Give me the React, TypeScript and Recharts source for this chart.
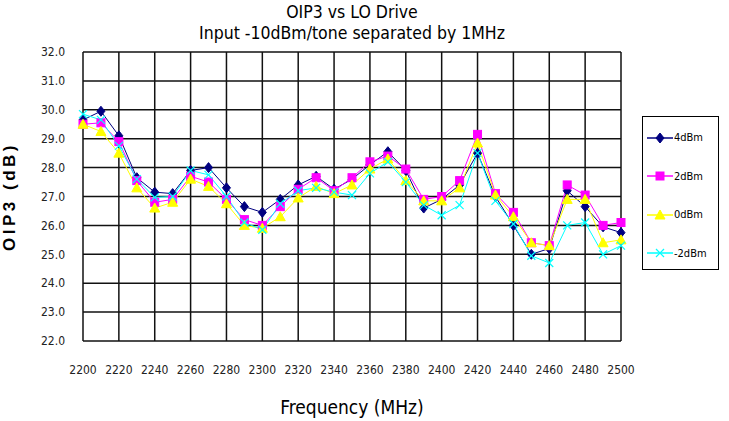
import React from "react";
import { LineChart, Line, XAxis, YAxis, CartesianGrid, Label } from "recharts";

const freqs = [2200, 2210, 2220, 2230, 2240, 2250, 2260, 2270, 2280, 2290, 2300, 2310, 2320, 2330, 2340, 2350, 2360, 2370, 2380, 2390, 2400, 2410, 2420, 2430, 2440, 2450, 2460, 2470, 2480, 2490, 2500];
const s4dBm = [29.65, 29.95, 29.1, 27.65, 27.15, 27.1, 27.9, 28.0, 27.3, 26.65, 26.45, 26.9, 27.4, 27.7, 27.25, 27.6, 28.1, 28.55, 27.9, 26.6, 26.9, 27.4, 28.5, 27.0, 26.0, 25.0, 25.2, 27.2, 26.65, 25.95, 25.75];
const s2dBm = [29.5, 29.55, 28.9, 27.55, 26.8, 26.9, 27.7, 27.5, 26.9, 26.2, 26.0, 26.65, 27.25, 27.65, 27.2, 27.65, 28.2, 28.4, 27.95, 26.9, 27.0, 27.55, 29.15, 27.1, 26.45, 25.4, 25.3, 27.4, 27.05, 26.0, 26.1];
const s0dBm = [29.5, 29.25, 28.5, 27.3, 26.6, 26.8, 27.6, 27.35, 26.75, 26.0, 25.9, 26.3, 26.95, 27.35, 27.1, 27.4, 27.95, 28.3, 27.55, 26.85, 26.85, 27.3, 28.85, 27.05, 26.3, 25.4, 25.3, 26.9, 26.9, 25.4, 25.5];
const sm2dBm = [29.85, 29.65, 28.75, 27.6, 26.97, 27.0, 27.9, 27.75, 27.0, 26.1, 25.85, 26.75, 27.2, 27.3, 27.15, 27.05, 27.8, 28.2, 27.5, 26.7, 26.35, 26.7, 28.5, 26.85, 26.05, 24.95, 24.7, 26.0, 26.1, 25.0, 25.3];

const xTicks = [2200, 2220, 2240, 2260, 2280, 2300, 2320, 2340, 2360, 2380, 2400, 2420, 2440, 2460, 2480, 2500];
const yTicks = [22, 23, 24, 25, 26, 27, 28, 29, 30, 31, 32];

const seriesDefs = [
  { key: "a", name: "4dBm", color: "#000080", shape: "diamond", values: s4dBm },
  { key: "b", name: "2dBm", color: "#FF00FF", shape: "square", values: s2dBm },
  { key: "c", name: "0dBm", color: "#FFFF00", shape: "triangle", values: s0dBm },
  { key: "d", name: "-2dBm", color: "#00FFFF", shape: "x", values: sm2dBm },
];

const data = freqs.map((f, i) => {
  const row: any = { f };
  seriesDefs.forEach((s) => (row[s.key] = s.values[i]));
  return row;
});

const FONT = "'DejaVu Sans Condensed', 'DejaVu Sans', sans-serif";

function Marker({ cx, cy, shape, color }: any) {
  if (cx == null || cy == null) return null;
  if (shape === "diamond") {
    return <polygon points={`${cx},${cy - 5} ${cx + 4},${cy} ${cx},${cy + 5} ${cx - 4},${cy}`} fill={color} stroke={color} />;
  }
  if (shape === "square") {
    return <rect x={cx - 4} y={cy - 4} width={8} height={8} fill={color} stroke={color} />;
  }
  if (shape === "triangle") {
    return <polygon points={`${cx},${cy - 5} ${cx + 5},${cy + 4} ${cx - 5},${cy + 4}`} fill={color} stroke={color} />;
  }
  return (
    <g stroke={color} strokeWidth={1.2}>
      <line x1={cx - 4} y1={cy - 4} x2={cx + 4} y2={cy + 4} />
      <line x1={cx - 4} y1={cy + 4} x2={cx + 4} y2={cy - 4} />
    </g>
  );
}

function LegendBox() {
  return (
    <div style={{ position: "absolute", left: 642, top: 116, border: "1px solid #000", width: 77, height: 154, boxSizing: "border-box", background: "#fff", fontFamily: FONT, fontSize: 11 }}>
      {seriesDefs.map((s, i) => (
        <div key={s.key} style={{ position: "absolute", left: 4, top: 14 + i * 38.5, display: "flex", alignItems: "center" }}>
          <svg width={26} height={12}>
            <line x1={0} y1={6} x2={26} y2={6} stroke={s.color} strokeWidth={1.5} />
            <Marker cx={13} cy={6} shape={s.shape} color={s.color} />
          </svg>
          <span style={{ marginLeft: 1, color: "#000" }}>{s.name}</span>
        </div>
      ))}
    </div>
  );
}

export default function App() {
  return (
    <div style={{ position: "absolute", left: 0, top: 0, width: 729, height: 421, background: "#fff" }}>
      <div style={{ position: "absolute", left: 0, top: 2, width: 704, textAlign: "center", fontFamily: FONT, fontSize: 17.5, lineHeight: "21px", color: "#000" }}>
        <div>OIP3 vs LO Drive</div>
        <div>Input -10dBm/tone separated by 1MHz</div>
      </div>
      <LineChart width={729} height={421} data={data} margin={{ top: 52, right: 108, bottom: 0, left: 23 }}>
        <CartesianGrid stroke="#111" strokeWidth={1.5} horizontal vertical />
        <XAxis
          dataKey="f"
          type="number"
          domain={[2200, 2500]}
          ticks={xTicks}
          interval={0}
          axisLine={false}
          tickLine={false}
          tick={{ fontFamily: FONT, fontSize: 12, fill: "#222" }}
          tickMargin={18}
          height={80}
        >
          <Label value="Frequency (MHz)" position="insideBottom" offset={7} style={{ fontFamily: FONT, fontSize: 19, fill: "#000" }} />
        </XAxis>
        <YAxis
          type="number"
          domain={[22, 32]}
          ticks={yTicks}
          interval={0}
          axisLine={false}
          tickLine={false}
          width={60}
          tickFormatter={(v: number) => v.toFixed(1)}
          tick={{ fontFamily: FONT, fontSize: 12, fill: "#222" }}
          tickMargin={12}
        >
          <Label value="OIP3 (dB)" angle={-90} position="insideLeft" offset={-14} style={{ fontFamily: "'Liberation Sans', Arial, sans-serif", fontWeight: "bold", fontSize: 17, letterSpacing: 3.5, fill: "#000", textAnchor: "middle" }} />
        </YAxis>
        {seriesDefs.map((s) => (
          <Line
            key={s.key}
            dataKey={s.key}
            name={s.name}
            stroke={s.color}
            strokeWidth={1}
            isAnimationActive={false}
            dot={(p: any) => <Marker key={`${s.key}-${p.index}`} cx={p.cx} cy={p.cy} shape={s.shape} color={s.color} />}
            activeDot={false}
          />
        ))}
      </LineChart>
      <LegendBox />
    </div>
  );
}
